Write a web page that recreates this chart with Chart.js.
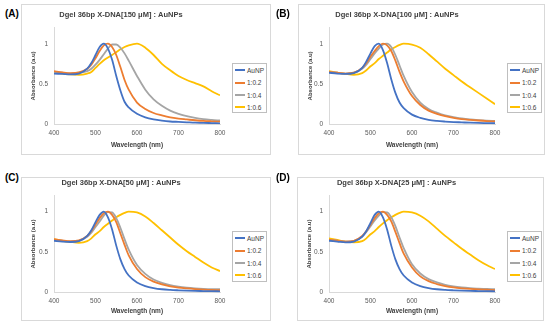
<!DOCTYPE html>
<html>
<head>
<meta charset="utf-8">
<script src="https://cdn.jsdelivr.net/npm/chart.js@4.4.1/dist/chart.umd.min.js"></script>
<style>
  body { margin: 0; width: 550px; height: 328px; background: #fff; position: relative; overflow: hidden;
         font-family: "Liberation Sans", Arial, sans-serif; }
  .panel { position: absolute; border: 1px solid #d9d9d9; box-sizing: border-box; }
  .panel canvas { position: absolute; left: 0; top: 0; }
  .tag { position: absolute; font-weight: bold; font-size: 10px; color: #000; line-height: 12px; }
  .legend { position: absolute; border: 1px solid #bfbfbf; box-sizing: border-box; background: #fff; }
  .legend .row { position: absolute; left: 2px; height: 10px; font-size: 6.5px; color: #404040; line-height: 10px; white-space: nowrap; }
  .legend .swatch { display: inline-block; width: 10px; height: 2px; vertical-align: middle; margin-right: 2px; position: relative; top: -1px; }
</style>
</head>
<body>
<script>
// Wavelength grid (nm) shared by every panel
const wavelengths = [400, 420, 440, 460, 480, 490, 500, 510, 520, 530, 540, 550, 560, 570, 580, 600, 620, 640, 660, 680, 700, 720, 740, 760, 780, 800];
const seriesNames = ['AuNP', '1:0.2', '1:0.4', '1:0.6'];
const panelTitles = [
    'Dgel 36bp X-DNA[150 μM] : AuNPs',
    'Dgel 36bp X-DNA[100 μM] : AuNPs',
    'Dgel 36bp X-DNA[50 μM] : AuNPs',
    'Dgel 36bp X-DNA[25 μM] : AuNPs'
];
const panelTags = ['(A)', '(B)', '(C)', '(D)'];
const xTicks = [400, 500, 600, 700, 800];
const yTicks = [0, 0.5, 1];

// (A) 150 uM
const aAuNP = [.63, .625, .62, .63, .69, .76, .86, .96, 1.0, .94, .80, .60, .42, .28, .21, .13, .085, .06, .045, .035, .03, .025, .02, .018, .015, .012];
const a02 = [.66, .645, .635, .645, .69, .74, .82, .91, .98, 1.0, .96, .86, .71, .55, .43, .27, .19, .14, .11, .085, .07, .06, .05, .042, .037, .033];
const a04 = [.65, .64, .63, .64, .66, .69, .74, .80, .87, .94, .99, .99, .95, .88, .79, .60, .43, .31, .23, .17, .13, .10, .08, .065, .055, .047];
const a06 = [.65, .63, .62, .615, .63, .65, .70, .75, .795, .83, .86, .895, .93, .96, .98, 1.0, .95, .86, .75, .67, .60, .55, .51, .47, .41, .36];

// (B) 100 uM
const bAuNP = [.64, .63, .625, .635, .70, .78, .88, .97, 1.0, .92, .76, .56, .39, .27, .20, .12, .08, .055, .042, .034, .028, .024, .02, .017, .015, .013];
const b02 = [.65, .64, .63, .64, .70, .76, .84, .91, .97, 1.0, .98, .91, .79, .65, .53, .35, .24, .17, .13, .10, .08, .065, .055, .047, .04, .035];
const b04 = [.65, .64, .63, .64, .69, .74, .81, .88, .94, .99, 1.0, .96, .86, .73, .60, .40, .27, .19, .145, .11, .09, .072, .06, .052, .046, .042];
const b06 = [.66, .64, .625, .615, .635, .67, .72, .76, .81, .85, .89, .93, .96, .985, 1.0, .99, .95, .87, .78, .69, .61, .53, .46, .39, .32, .25];

// (C) 50 uM
const cAuNP = [.64, .63, .625, .635, .70, .77, .87, .96, 1.0, .93, .78, .58, .41, .29, .21, .125, .08, .055, .04, .032, .027, .023, .02, .018, .016, .015];
const c02 = [.66, .645, .635, .645, .70, .76, .84, .92, .98, 1.0, .96, .87, .73, .59, .46, .29, .19, .135, .10, .075, .06, .05, .042, .036, .032, .028];
const c04 = [.65, .64, .63, .64, .69, .74, .81, .88, .95, .995, .99, .92, .80, .66, .53, .34, .23, .16, .12, .09, .072, .06, .052, .046, .042, .04];
const c06 = [.66, .64, .625, .615, .635, .67, .72, .76, .81, .85, .89, .93, .96, .985, 1.0, .99, .94, .86, .77, .68, .59, .51, .44, .37, .31, .265];

// (D) 25 uM
const dAuNP = [.64, .63, .62, .63, .69, .76, .86, .96, 1.0, .93, .78, .58, .41, .29, .21, .125, .08, .055, .04, .032, .027, .023, .02, .018, .016, .015];
const d02 = [.65, .64, .63, .64, .70, .76, .84, .92, .98, 1.0, .96, .88, .75, .61, .48, .31, .20, .14, .105, .08, .063, .052, .044, .038, .034, .03];
const d04 = [.65, .64, .63, .64, .69, .75, .82, .89, .95, .995, .99, .93, .82, .68, .55, .35, .235, .165, .125, .095, .076, .063, .054, .048, .043, .04];
const d06 = [.67, .65, .63, .62, .635, .67, .72, .76, .81, .855, .895, .93, .96, .985, 1.0, .99, .95, .88, .79, .70, .62, .54, .47, .40, .34, .29];

const panelSeries = [
    [aAuNP, a02, a04, a06],
    [bAuNP, b02, b04, b06],
    [cAuNP, c02, c04, c06],
    [dAuNP, d02, d04, d06]
];

// Excel-like default palette
const seriesColors = ['#4472C4', '#ED7D31', '#A5A5A5', '#FFC000'];

// Page geometry of each panel: frame box, plot area, title centre, legend box, tag position
const layouts = [
    { box: [21, 4, 271, 155], plot: [54, 27.6, 220, 124.3], titleY: 15, legend: [232, 63, 35, 50], tag: [5, 8], xTitleOff: 5 },
    { box: [298, 4, 545, 155], plot: [329, 27.6, 495, 124.3], titleY: 15, legend: [507, 63, 35, 50], tag: [276, 8], xTitleOff: 5 },
    { box: [21, 177, 271, 321], plot: [54, 195.5, 220, 292.5], titleY: 183, legend: [232, 231, 35, 51], tag: [5, 172], xTitleOff: 4.5 },
    { box: [297, 177, 544, 321], plot: [329, 195.5, 495, 292.5], titleY: 183, legend: [507, 231, 35, 51], tag: [276, 172], xTitleOff: 4.5 }
];

const FONT = '"Liberation Sans", Arial, sans-serif';

function buildPanel(i) {
    const L = layouts[i];
    const [bl, bt, br, bb] = L.box;
    const panel = document.createElement('div');
    panel.className = 'panel';
    panel.style.left = bl + 'px';
    panel.style.top = bt + 'px';
    panel.style.width = (br - bl) + 'px';
    panel.style.height = (bb - bt) + 'px';
    document.body.appendChild(panel);

    const cw = br - bl - 2, ch = bb - bt - 2;
    const ox = bl + 1, oy = bt + 1;
    const canvas = document.createElement('canvas');
    canvas.width = cw;
    canvas.height = ch;
    panel.appendChild(canvas);

    const plotL = L.plot[0] - ox, plotT = L.plot[1] - oy;
    const plotR = L.plot[2] - ox, plotB = L.plot[3] - oy;
    const titleFont = 7.5, titleLH = titleFont * 1.2;
    const titlePadTop = (L.titleY - oy) - titleLH / 2;
    const titlePadBottom = plotT - titlePadTop - titleLH;

    const datasets = panelSeries[i].map((vals, k) => ({
        label: seriesNames[k],
        data: wavelengths.map((w, j) => ({ x: w, y: vals[j] })),
        borderColor: seriesColors[k],
        backgroundColor: seriesColors[k],
        borderWidth: 1.8,
        pointRadius: 0,
        fill: false,
        cubicInterpolationMode: 'monotone'
    }));

    new Chart(canvas.getContext('2d'), {
        type: 'line',
        data: { datasets: datasets },
        options: {
            responsive: false,
            animation: false,
            events: [],
            layout: { padding: { left: 0, top: 0, right: cw - plotR, bottom: 0 } },
            plugins: {
                legend: { display: false },
                tooltip: { enabled: false },
                title: {
                    display: true,
                    text: panelTitles[i],
                    color: '#404040',
                    font: { family: FONT, size: titleFont, weight: 'bold', lineHeight: 1.2 },
                    padding: { top: titlePadTop, bottom: titlePadBottom }
                }
            },
            scales: {
                x: {
                    type: 'linear',
                    min: 400,
                    max: 800,
                    grid: { display: false, drawTicks: false },
                    border: { display: true, color: '#d9d9d9', width: 1 },
                    afterFit: s => { s.height = ch - plotB; },
                    afterBuildTicks: s => { s.ticks = xTicks.map(v => ({ value: v })); },
                    ticks: {
                        color: '#595959',
                        padding: 5,
                        autoSkip: false,
                        maxRotation: 0,
                        font: { family: FONT, size: 6.5 },
                        callback: v => String(v)
                    },
                    title: {
                        display: true,
                        text: 'Wavelength (nm)',
                        color: '#404040',
                        font: { family: FONT, size: 6.5, weight: 'bold', lineHeight: 1.2 },
                        padding: { top: 0, bottom: L.xTitleOff }
                    }
                },
                y: {
                    min: 0,
                    max: 1.2,
                    grid: { display: false, drawTicks: false },
                    border: { display: true, color: '#d9d9d9', width: 1 },
                    afterFit: s => { s.width = plotL; },
                    afterBuildTicks: s => { s.ticks = yTicks.map(v => ({ value: v })); },
                    ticks: {
                        color: '#595959',
                        padding: 6,
                        autoSkip: false,
                        font: { family: FONT, size: 6.5 },
                        callback: v => String(v)
                    },
                    title: {
                        display: true,
                        text: 'Absorbance (a.u)',
                        color: '#404040',
                        font: { family: FONT, size: 6, weight: 'bold', lineHeight: 1.2 },
                        padding: { top: 7.4, bottom: 0 }
                    }
                }
            }
        }
    });

    // legend box, drawn as html next to the plot
    const [lx, ly, lw, lh] = L.legend;
    const legend = document.createElement('div');
    legend.className = 'legend';
    legend.style.left = (lx - bl - 1) + 'px';
    legend.style.top = (ly - bt - 1) + 'px';
    legend.style.width = lw + 'px';
    legend.style.height = lh + 'px';
    seriesNames.forEach((name, k) => {
        const row = document.createElement('div');
        row.className = 'row';
        row.style.top = (2 + k * 12.4) + 'px';
        const sw = document.createElement('span');
        sw.className = 'swatch';
        sw.style.background = seriesColors[k];
        row.appendChild(sw);
        row.appendChild(document.createTextNode(name));
        legend.appendChild(row);
    });
    panel.appendChild(legend);

    const tag = document.createElement('div');
    tag.className = 'tag';
    tag.style.left = L.tag[0] + 'px';
    tag.style.top = L.tag[1] + 'px';
    tag.textContent = panelTags[i];
    document.body.appendChild(tag);
}

for (let i = 0; i < 4; i++) {
    buildPanel(i);
}
</script>
</body>
</html>
